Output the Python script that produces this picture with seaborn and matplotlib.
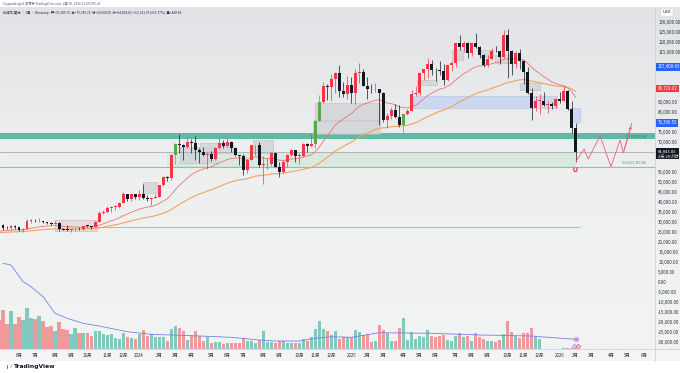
import numpy as np
import pandas as pd
import matplotlib
matplotlib.use("Agg")
import matplotlib.pyplot as plt
import matplotlib.transforms as mtransforms
from matplotlib.patches import Rectangle, Polygon, Circle
from matplotlib.colors import LinearSegmentedColormap
import seaborn as sns

# ---------------- data (weekly BTC/USD, Bitstamp, week starting 2023-05-01) -------------
opens = [29233, 28430, 26920, 26750, 28080, 27110, 25850, 26340, 30540, 30580,
         30290, 30300, 29900, 29270, 29050, 29400, 26100, 26010, 25840, 26220,
         26530, 26250, 27970, 27940, 27150, 29990, 34500, 35040, 37070, 37350,
         37460, 39460, 43780, 41350, 43650, 42280, 43950, 41740, 41580, 42030,
         42580, 48300, 52140, 51730, 63110, 68960, 68380, 67210, 69640, 69360,
         65660, 64940, 63110, 63890, 61480, 66940, 69290, 67760, 69650, 66650,
         63210, 62700, 55860, 60790, 68180, 68250, 58110, 58720, 58970, 64190,
         57300, 54840, 59990, 63580, 65600, 62800, 62900, 69030, 68000, 68760,
         80370, 89880, 98000, 97440, 101150, 104460, 95180, 93750, 98370, 94500,
         104550, 104780, 97680, 96470, 96140, 96300, 94260, 80700, 82600, 86080,
         82390, 78370, 83730, 85170, 93730, 94300, 104100, 106450, 109000, 105700,
         105600, 105500, 100900, 108400, 109200, 119100, 117300, 119400, 114200, 119300,
         117400, 113500, 108300, 111200, 115300, 115200, 112200, 123500, 115100, 108600,
         114500, 110500, 104700, 94400, 86800, 90400, 90400, 88200, 88600, 87800,
         91500, 90500, 95100, 86500, 76985.79]
highs = [29840, 28630, 27660, 28260, 28450, 27400, 26790, 31430, 31280, 31380,
         31800, 30350, 29990, 30050, 30260, 29680, 26800, 28140, 26430, 26840,
         27470, 28040, 28580, 27980, 30380, 35280, 35960, 37970, 37940, 38420,
         39680, 44700, 44000, 44380, 43800, 45920, 49000, 43570, 42250, 43880,
         48590, 52820, 52990, 64000, 69200, 73800, 68940, 71770, 71290, 72800,
         66900, 67230, 64740, 65480, 67420, 71980, 70620, 71980, 70200, 67260,
         63400, 63800, 61350, 68370, 68500, 70080, 62720, 61780, 65000, 64520,
         59800, 60660, 64100, 66500, 65650, 64460, 69400, 69520, 73620, 81500,
         93480, 99600, 98700, 104000, 105000, 108350, 99960, 102750, 102500, 106400,
         109590, 106460, 102500, 98820, 99480, 96500, 95000, 84300, 87470, 88800,
         88500, 83600, 86500, 95750, 97900, 104300, 105800, 111900, 110700, 106800,
         110500, 108900, 108500, 110500, 119500, 123200, 120200, 119800, 119400, 124500,
         117600, 113600, 113400, 116700, 117900, 115500, 125600, 126200, 115900, 115500,
         116400, 110800, 107500, 96600, 93000, 94000, 94600, 90400, 90000, 91800,
         94800, 97900, 95600, 90500, 79385.74]
lows = [27670, 25810, 26360, 26100, 26510, 25380, 24800, 26260, 29500, 29720,
        29950, 29560, 28860, 28600, 28720, 25170, 25810, 25370, 24900, 25140,
        26030, 26000, 27170, 26540, 27110, 29870, 33940, 34530, 34770, 35630,
        36740, 39190, 40250, 40530, 41430, 40750, 41500, 40280, 38550, 41820,
        42290, 47700, 50520, 50900, 59000, 64600, 60760, 66880, 64500, 60700,
        59600, 62790, 56550, 60190, 60760, 66330, 66800, 67600, 65080, 63000,
        58400, 53500, 54320, 60610, 63450, 57120, 49000, 56110, 57860, 57200,
        52550, 54580, 57510, 62650, 59830, 58950, 62450, 65060, 67480, 66830,
        80210, 89400, 90770, 90500, 94150, 92100, 92500, 91300, 89260, 89080,
        99550, 97600, 91230, 94100, 94850, 78200, 80000, 76600, 81200, 81600,
        77200, 74500, 83100, 85150, 92800, 93400, 100700, 102000, 103100, 100400,
        103300, 98200, 100500, 105200, 107500, 115800, 114700, 112000, 112700, 116800,
        111700, 107300, 107300, 110700, 114600, 108600, 111600, 102000, 103500, 106600,
        106300, 98900, 93900, 80600, 85300, 83800, 87600, 84400, 86500, 86800,
        89300, 90100, 86000, 74500, 60000.00]
closes = [28430, 26920, 26750, 28080, 27110, 25850, 26340, 30540, 30580, 30290,
          30300, 29900, 29270, 29050, 29400, 26100, 26010, 25840, 26220, 26530,
          26250, 27970, 27940, 27150, 29990, 34500, 35040, 37070, 37350, 37460,
          39460, 43780, 41350, 43650, 42280, 43950, 41740, 41580, 42030, 42580,
          48300, 52140, 51730, 63110, 68960, 68380, 67210, 69640, 69360, 65660,
          64940, 63110, 63890, 61480, 66940, 69290, 67760, 69650, 66650, 63210,
          62700, 55860, 60790, 68180, 68250, 58110, 58720, 58970, 64190, 57300,
          54840, 59990, 63580, 65600, 62800, 62900, 69030, 68000, 68760, 80370,
          89880, 98000, 97440, 101150, 104460, 95180, 93750, 98370, 94500, 104550,
          104780, 97680, 96470, 96140, 96300, 94260, 80700, 82600, 86080, 82390,
          78370, 83730, 85170, 93730, 94300, 104100, 106450, 109000, 105700, 105600,
          105500, 100900, 108400, 109200, 119100, 117300, 119400, 114200, 119300, 117400,
          113500, 108300, 111200, 115300, 115200, 112200, 123500, 115100, 108600, 114500,
          110500, 104700, 94400, 86800, 90400, 90400, 88200, 88600, 87800, 91500,
          90500, 95100, 86500, 76985.79, 64843.82]
# weekly closes before the visible range (2022-05-02 .. 2023-04-24), for the moving averages
pre_closes = [34060, 31300, 30290, 29440, 29900, 26590, 20550, 21030, 19300, 20850,
              20790, 22580, 23300, 23170, 24300, 21530, 19560, 19830, 21830, 19420,
              18800, 19060, 19450, 19070, 19570, 20630, 20920, 16330, 16280, 16460,
              17110, 17100, 16750, 16840, 16540, 17130, 20880, 22710, 23740, 22940,
              21780, 24630, 23560, 22430, 22150, 28040, 27990, 28460, 28330, 30310,
              27590, 29230]
volumes = [15000,
           19900, 12750, 19400, 12750, 16500, 14800, 21100, 15600, 15500, 17000,
           14450, 11050, 11730, 9180, 13940, 10200, 9690, 7480, 10540, 8330,
           8330, 8330, 6630, 9010, 9350, 7650, 7140, 7650, 5440, 4930,
           8330, 6290, 5440, 4930, 7650, 9690, 6630, 7650, 5950, 5950,
           6290, 4250, 10200, 11730, 10540, 9350, 4590, 7140, 9350, 6630,
           4250, 5950, 2890, 3570, 3570, 2550, 2890, 2890, 2890, 3230,
           5440, 4080, 4080, 3230, 4590, 9350, 3570, 3570, 2890, 4250,
           4250, 3230, 2890, 3230, 3230, 4930, 4250, 6290, 10200, 14450, 10200,
           9350, 7140, 9180, 4930, 5950, 5950, 5950, 9690, 8840, 7140,
           7480, 3740, 4250, 12240, 9690, 7990, 4250, 4250, 10540, 15980,
           4590, 8840, 4930, 6630, 5950, 9690, 6630, 5950, 6630, 7140,
           4590, 4250, 6630, 7990, 5950, 6630, 4250, 7990, 5950, 5270,
           4250, 4250, 3740, 4590, 7650, 14450, 8840, 6630, 5440, 7990,
           7990, 10540, 5950, 4930,
           0, 0, 0, 0, 0, 500, 600, 600, 448.89]
signal_weeks = [44, 79, 80, 101]

# blue oscillator (separate scale)
osc_weeks = [1, 3, 6, 8, 11, 14, 17, 21, 25, 32, 38, 50, 58, 65, 69, 75, 79, 83, 88,
             95, 108, 120, 133, 135, 144]
osc_vals = [85.7, 84.0, 67.3, 62.3, 52.3, 35.7, 30.7, 25.7, 23.0, 17.3, 14.7, 13.0,
            11.7, 9.0, 8.0, 8.0, 10.7, 12.3, 11.7, 16.3, 15.7, 14.0, 13.0, 12.3, 9.7]

# projected path (drawing)
path_weeks = [144.1, 146.1, 147.1, 150.1, 152.8, 155.1, 155.9, 158.0]
path_prices = [60350, 66350, 61350, 72850, 57500, 70850, 64350, 79200]

# zones (weeks from, weeks to, price low, price high)
teal_zone = (71200, 74500)
gray_zones = [(78.9, 95.1, 80850, 89350), (78.4, 95.1, 73850, 80350),
              (45.2, 54.4, 59350, 67350), (50.2, 58.4, 64350, 69350),
              (63.4, 68.4, 64350, 70850), (36.0, 39.4, 44350, 49850),
              (130.0, 135.0, 95850, 99350), (113.1, 115.9, 110850, 115850),
              (120.1, 123.3, 112350, 115850), (123.8, 127.6, 109350, 113350),
              (104.4, 109.4, 98350, 100850)]
pink_zones = [(14.0, 24.5, 25350, 30850)]
blue_zones = [(103.4, 139.3, 86850, 92850), (142.6, 145.1, 79850, 86850)]
green_zone = (42.0, 144.0, 57407.80, 64843.82)
level_lines = [64843.82, 57407.80]
fib_labels = ["0.5 (72,850.00)", "0.618 (57,407.80)"]
price_tags = [(107400.43, "107,400.43", "#2962ff"), (96719.02, "96,719.02", "#f23645"),
              (79390.55, "79,390.55", "#2962ff")]
last_price = 64843.82

tick_weeks = [5, 9, 14, 18, 22, 27, 31, 35, 40, 44, 48, 53, 57, 61, 66, 70, 75, 79, 83,
              88, 92, 96, 101, 105, 109, 114, 118, 122, 127, 131, 135, 140, 144, 148,
              153, 157, 161]
tick_labels = ["6月", "7月", "8月", "9月", "10月", "11月", "12月", "2024", "2月", "3月",
               "4月", "5月", "6月", "7月", "8月", "9月", "10月", "11月", "12月", "2025",
               "2月", "3月", "4月", "5月", "6月", "7月", "8月", "9月", "10月", "11月",
               "12月", "2026", "2月", "3月", "4月", "5月", "6月"]

n = len(closes)
assert len(opens) == n and len(highs) == n and len(lows) == n and len(volumes) == n

# ---------------- style -------------------------------------------------------
sns.set_theme(style="white")
plt.rcParams['font.family'] = ['Noto Sans CJK SC', 'DejaVu Sans']
plt.rcParams['axes.unicode_minus'] = False

W, H = 680, 373
fig = plt.figure(figsize=(6.8, 3.73), dpi=100)
fig.patch.set_facecolor("white")


def rect(x0, y0, x1, y1):
    return [x0 / W, 1 - y1 / H, (x1 - x0) / W, (y1 - y0) / H]


PANE_TOP, PANE_BOT, PANE_RIGHT = 7, 349, 655

# background gradient
bg = fig.add_axes(rect(0, PANE_TOP, W, PANE_BOT))
cmap = LinearSegmentedColormap.from_list("bg", ["#e1e3e6", "#eef0f0", "#f2f3f3"])
bg.imshow(np.linspace(0, 1, 256)[:, None], aspect="auto", cmap=cmap, extent=[0, 1, 0, 1])
bg.axis("off")
strip = fig.add_axes(rect(0, PANE_BOT, W, 361))
strip.set_facecolor("#f3f4f5")
strip.set_xticks([]); strip.set_yticks([])
for s in strip.spines.values():
    s.set_visible(False)

# main price pane
ax = fig.add_axes(rect(0, PANE_TOP, PANE_RIGHT, PANE_BOT))
ax.set_facecolor("none")
idx = np.arange(n)
XL = (0.25, 163.8)
YL = (-33650, 137350)

# volume (own scale)
axv = ax.twinx()
axv.set_ylim(0, 173910)
vol_up = [c >= o for o, c in zip(opens, closes)]
axv.bar(idx, volumes, width=0.8, linewidth=0,
        color=["#26a69a" if u else "#ef5350" for u in vol_up], alpha=0.55)
axv.set_yticks([])

# oscillator (own scale)
axi = ax.twinx()
axi.set_ylim(0, 342)
sns.lineplot(x=osc_weeks, y=osc_vals, ax=axi, color="#7a80e6", lw=0.6)
axi.plot([osc_weeks[-1]], [osc_vals[-1]], "o", ms=3.2, mfc="none", mec="#b07fe8", mew=0.5)
axi.plot([osc_weeks[-1]], [osc_vals[-1]], "o", ms=0.8, color="#b07fe8")
axi.plot([osc_weeks[-1] - 0.4], [3.5], "o", ms=2.6, mfc="#c9d3f5", mec="#7a80e6", mew=0.4)
axi.plot([osc_weeks[-1] + 0.5], [2.8], "o", ms=2.6, mfc="#f6c3c6", mec="#f23645", mew=0.4)
axi.set_yticks([])
axi.set_ylabel("")

for a in (ax, axv, axi):
    a.set_xlim(*XL)
    for s in a.spines.values():
        s.set_visible(False)
ax.set_ylim(*YL)

# zones
ax.add_patch(Rectangle((XL[0], teal_zone[0]), XL[1] - XL[0], teal_zone[1] - teal_zone[0],
                       fc="#5fb9a5", ec="none", zorder=1))
gz = green_zone
ax.add_patch(Rectangle((gz[0], gz[2]), gz[1] - gz[0], gz[3] - gz[2], fc="#d3e8da",
                       ec="none", alpha=0.75, zorder=0.8))
for x0, x1, lo, hi in gray_zones:
    ax.add_patch(Rectangle((x0, lo), x1 - x0, hi - lo, fc="#d2d4d8", ec="#b5b8bd",
                           lw=0.4, alpha=0.85, zorder=1))
for x0, x1, lo, hi in pink_zones:
    ax.add_patch(Rectangle((x0, lo), x1 - x0, hi - lo, fc="#e6d9db", ec="#d8a9ae",
                           lw=0.4, alpha=0.9, zorder=1))
for x0, x1, lo, hi in blue_zones:
    ax.add_patch(Rectangle((x0, lo), x1 - x0, hi - lo, fc="#c8d6f1", ec="#a9bde6",
                           lw=0.4, alpha=0.9, zorder=1))
ax.axhline(level_lines[0], color="#a9adb3", lw=0.6, zorder=1.2)
ax.axhline(level_lines[1], color="#8cc2a6", lw=0.8, zorder=1.2)
ax.hlines(27600, 24, 145, color="#a6c4b6", lw=0.7, zorder=1.2)
ax.text(161.5, (teal_zone[0] + teal_zone[1]) / 2, fib_labels[0], fontsize=2.2,
        color="#3d6e62", ha="right", va="center", zorder=3)
ax.text(161.5, level_lines[1] + 2300, fib_labels[1], fontsize=2.2, color="#4a8f6e",
        ha="right", va="center", zorder=3)

# moving averages
all_closes = pd.Series(pre_closes + closes, dtype=float)
ema_fast = all_closes.ewm(span=20, adjust=False).mean().to_numpy()[len(pre_closes):]
ema_slow = all_closes.ewm(span=50, adjust=False).mean().to_numpy()[len(pre_closes):]
sns.lineplot(x=idx, y=ema_slow, ax=ax, color="#f3a25c", lw=0.8, zorder=2)
sns.lineplot(x=idx, y=ema_fast, ax=ax, color="#ec7474", lw=0.6, zorder=2)

# candles
cols = []
for i in range(n):
    if i in signal_weeks:
        cols.append("#5aa84a")
    elif closes[i] >= opens[i]:
        cols.append("#f23645")
    else:
        cols.append("#131722")
ax.vlines(idx, lows, highs, colors=cols, lw=0.5, zorder=3)
body_lo = np.minimum(opens, closes)
body_h = np.maximum(np.abs(np.array(closes) - np.array(opens)), 300)
ax.bar(idx, body_h, bottom=body_lo, width=0.72, color=cols, linewidth=0, zorder=3.1)

# projected path
sns.lineplot(x=path_weeks, y=path_prices, ax=ax, color="#ee5f6b", lw=0.6, sort=False,
             zorder=4)
ax.annotate("", xy=(path_weeks[-1], path_prices[-1]),
            xytext=(path_weeks[-2], path_prices[-2]),
            arrowprops=dict(arrowstyle="-|>", color="#ee5f6b", lw=0.6,
                            mutation_scale=3.5), zorder=4)
ax.text(143.8, 56300, "∪", fontsize=6, fontweight="bold", color="#e8323f",
        ha="center", va="center", family="DejaVu Sans", zorder=5)

# axes / ticks (scale labels hidden where a price tag sits on top of them)
ax.set_xticks(tick_weeks)
ax.set_xticklabels(tick_labels)
ax.yaxis.tick_right()
tag_prices = [p for p, _, _ in price_tags] + [last_price - 900]
yt = [v for v in range(-30000, 130001, 5000)
      if all(abs(v - p) > 3600 for p in tag_prices[:-1]) and abs(v - tag_prices[-1]) > 4800]
ax.set_yticks(yt)
ax.set_yticklabels([f"{v:,.2f}" for v in yt])
ax.tick_params(axis="x", length=0, pad=2.6, labelsize=3.2, labelcolor="#2a2e39")
ax.tick_params(axis="y", length=0, pad=2.3, labelsize=3.2, labelcolor="#2a2e39",
               right=True, left=False, labelright=True, labelleft=False)
ax.set_xlabel("")
ax.set_ylabel("")
ax.grid(False)

# price tags on the scale
blend = mtransforms.blended_transform_factory(ax.transAxes, ax.transData)
for p, t, c in price_tags:
    ax.text(1.004, p, t, transform=blend, fontsize=3.2, color="white", ha="left",
            va="center", bbox=dict(boxstyle="square,pad=0.28", fc=c, ec="none"),
            clip_on=False, zorder=10)
ax.text(1.004, last_price - 900, f"{last_price:,.2f}\n2天 20小时", transform=blend,
        fontsize=3.0, color="white", ha="left", va="center", linespacing=1.0,
        bbox=dict(boxstyle="square,pad=0.28", fc="#131722", ec="none"),
        clip_on=False, zorder=10)
fig.text(667 / W, 1 - 12.3 / H, "USD", fontsize=3.0, color="#131722", ha="center",
         va="center", bbox=dict(boxstyle="square,pad=0.35", fc="white", ec="#d6d8db",
                                lw=0.3))

# separators
fig.add_artist(plt.Line2D([PANE_RIGHT / W] * 2, [1 - PANE_TOP / H, 1 - 361 / H],
                          color="#c9ccd1", lw=0.5))
fig.add_artist(plt.Line2D([0, 1], [1 - PANE_BOT / H] * 2, color="#c9ccd1", lw=0.5))

# header
fig.text(3 / W, 1 - 3.6 / H, "Cryptodesign1 发布于 TradingView.com, 2月 06, 2026 11:09 UTC+8",
         fontsize=2.3, color="#50535e", va="center")
fig.text(3 / W, 1 - 12.6 / H,
         "比特币/美元 · 1周 · Bitstamp   开=76,985.79  高=79,385.74  低=60,000.00  收=64,843.82  "
         "−12,141.97 (−15.77%)  量=448.89",
         fontsize=2.3, color="#2a2e39", va="center")

# footer logo
lg = fig.add_axes(rect(4, 362, 60, 370))
lg.set_xlim(0, 56); lg.set_ylim(0, 8)
lg.axis("off")
lg.add_patch(Rectangle((0.5, 4.6), 3.6, 1.6, fc="#131722"))
lg.add_patch(Rectangle((2.4, 1.4), 1.7, 4.8, fc="#131722"))
lg.add_patch(Circle((5.3, 5.3), 0.9, fc="#131722"))
lg.add_patch(Polygon([[5.4, 1.4], [7.2, 6.2], [9.0, 6.2], [7.2, 1.4]], fc="#131722"))
lg.text(10.3, 3.8, "TradingView", fontsize=4.3, fontweight="bold", color="#131722",
        va="center", family="DejaVu Sans")

fig.savefig("out.png", dpi=100, facecolor="white")
